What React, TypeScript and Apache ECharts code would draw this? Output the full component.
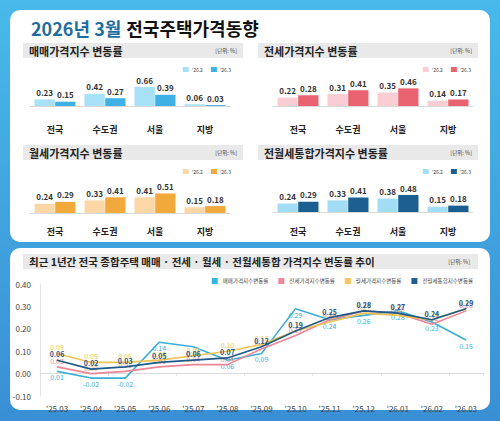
import React, { useEffect, useRef } from "react";
import * as echarts from "echarts";

const categories = ["전국", "수도권", "서울", "지방"];
const saleFeb = [0.23, 0.42, 0.66, 0.06];
const saleMar = [0.15, 0.27, 0.39, 0.03];
const jeonseFeb = [0.22, 0.31, 0.35, 0.14];
const jeonseMar = [0.28, 0.41, 0.46, 0.17];
const wolseFeb = [0.24, 0.33, 0.41, 0.15];
const wolseMar = [0.29, 0.41, 0.51, 0.18];
const totalFeb = [0.24, 0.33, 0.38, 0.15];
const totalMar = [0.29, 0.41, 0.48, 0.18];

const months = ["'25.03", "'25.04", "'25.05", "'25.06", "'25.07", "'25.08", "'25.09", "'25.10", "'25.11", "'25.12", "'26.01", "'26.02", "'26.03"];
const trendSale = [0.01, -0.02, -0.02, 0.14, 0.12, 0.06, 0.09, 0.29, 0.24, 0.26, 0.28, 0.23, 0.15];
const trendJeonse = [0.03, 0.0, 0.01, 0.03, 0.04, 0.04, 0.11, 0.17, 0.24, 0.28, 0.27, 0.22, 0.28];
const trendWolse = [0.09, 0.05, 0.05, 0.06, 0.08, 0.1, 0.13, 0.19, 0.23, 0.27, 0.26, 0.24, 0.29];
const trendTotal = [0.06, 0.02, 0.03, 0.05, 0.06, 0.07, 0.12, 0.19, 0.25, 0.28, 0.27, 0.24, 0.29];

const periodLabels = ["'26.2", "'26.3"];
const trendNames = ["매매가격지수변동률", "전세가격지수변동률", "월세가격지수변동률", "전월세통합지수변동률"];

const FONT = "'Noto Sans CJK KR', 'Noto Sans', sans-serif";

export default function App() {
  const ref = useRef<HTMLDivElement>(null);
  useEffect(() => {
    if (!ref.current) return;
    const chart = echarts.init(ref.current, undefined, { renderer: "svg" });

    const panels = [
      { key: "매매", title: "매매가격지수 변동률", left: 30, top: 60, height: 46, max: 1.6, feb: saleFeb, mar: saleMar, c1: "#a6e1f7", c2: "#3fb0e3", hx: 23, hy: 43, legTop: 62, legRight: 264, margin: 19 },
      { key: "전세", title: "전세가격지수 변동률", left: 273, top: 60, height: 46, max: 1.2, feb: jeonseFeb, mar: jeonseMar, c1: "#f9cdd3", c2: "#e8626f", hx: 258, hy: 43, legTop: 62, legRight: 24, margin: 19 },
      { key: "월세", title: "월세가격지수 변동률", left: 30, top: 167, height: 46, max: 1.2, feb: wolseFeb, mar: wolseMar, c1: "#fbd6a6", c2: "#f2a93b", hx: 23, hy: 145, legTop: 164, legRight: 264, margin: 14 },
      { key: "통합", title: "전월세통합가격지수 변동률", left: 273, top: 166, height: 46, max: 1.3, feb: totalFeb, mar: totalMar, c1: "#a3dcf5", c2: "#1b5f91", hx: 258, hy: 145, legTop: 164, legRight: 24, margin: 15 },
    ];

    const grids: any[] = [];
    const xAxes: any[] = [];
    const yAxes: any[] = [];
    const series: any[] = [];
    const legends: any[] = [];
    const graphics: any[] = [
      { type: "rect", shape: { x: 10, y: 10, width: 480, height: 232, r: 10 }, style: { fill: "#ffffff" }, z: 0 },
      { type: "rect", shape: { x: 10, y: 248, width: 480, height: 162, r: 10 }, style: { fill: "#ffffff" }, z: 0 },
    ];

    panels.forEach((p, i) => {
      grids.push({ left: p.left, top: p.top, width: 200, height: p.height });
      xAxes.push({
        type: "category", gridIndex: i, data: categories,
        axisLine: { lineStyle: { color: "#d9d9d9" } }, axisTick: { show: false },
        axisLabel: { color: "#222", fontSize: 9, fontWeight: "bold", margin: p.margin, fontFamily: FONT },
      });
      yAxes.push({ type: "value", gridIndex: i, min: 0, max: p.max, show: false });
      const names = periodLabels.map((l) => p.key + " " + l);
      [p.feb, p.mar].forEach((vals, j) => {
        series.push({
          type: "bar", name: names[j], xAxisIndex: i, yAxisIndex: i, data: vals,
          barGap: "2%", barCategoryGap: "18%",
          itemStyle: { color: j === 0 ? p.c1 : p.c2 },
          label: { show: true, position: "top", distance: 3, fontSize: 8, fontWeight: "bold", color: "#333", fontFamily: FONT, formatter: (v: any) => v.value.toFixed(2) },
        });
      });
      legends.push({
        data: names, top: p.legTop, right: p.legRight, itemWidth: 6, itemHeight: 5, itemGap: 8, icon: "rect",
        formatter: (n: string) => n.split(" ")[1],
        textStyle: { fontSize: 5, color: "#444", fontFamily: FONT, padding: [0, 0, 0, -2] },
        selectedMode: false,
      });
      graphics.push(
        { type: "rect", shape: { x: p.hx, y: p.hy, width: 220, height: 15 }, style: { fill: "#e9e9e9" }, z: 1 },
        { type: "text", x: p.hx + 6, y: p.hy + 7.5, style: { text: p.title, fontSize: 11, fontWeight: "bold", fill: "#222", fontFamily: FONT, textVerticalAlign: "middle" }, z: 2 },
        { type: "text", x: p.hx + 214, y: p.hy + 7.5, style: { text: "[단위: %]", fontSize: 5.5, fill: "#444", fontFamily: FONT, textAlign: "right", textVerticalAlign: "middle" }, z: 2 },
      );
    });

    // trend chart
    graphics.push(
      { type: "rect", shape: { x: 23, y: 254, width: 455, height: 15 }, style: { fill: "#e9e9e9" }, z: 1 },
      { type: "text", x: 29, y: 261.5, style: { text: "최근 1년간 전국 종합주택 매매 · 전세 · 월세 · 전월세통합 가격지수 변동률 추이", fontSize: 10.5, fontWeight: "bold", fill: "#222", fontFamily: FONT, textVerticalAlign: "middle" }, z: 2 },
      { type: "text", x: 470, y: 261.5, style: { text: "[단위: %]", fontSize: 5.5, fill: "#444", fontFamily: FONT, textAlign: "right", textVerticalAlign: "middle" }, z: 2 },
    );
    grids.push({ left: 40, right: 17, top: 284, bottom: 25 });
    const gi = panels.length;
    xAxes.push({
      type: "category", gridIndex: gi, data: months, position: "bottom",
      axisLine: { show: false, onZero: false }, axisTick: { show: false },
      axisLabel: { color: "#444", fontSize: 8, margin: 8, fontFamily: FONT },
    });
    xAxes.push({
      type: "category", gridIndex: gi, data: months, position: "bottom",
      axisLine: { show: true, onZero: true, lineStyle: { color: "#dcdcdc" } },
      axisTick: { show: true, length: 2, lineStyle: { color: "#dcdcdc" } },
      axisLabel: { show: false },
    });
    yAxes.push({
      type: "value", gridIndex: gi, min: -0.1, max: 0.4, interval: 0.1,
      axisLine: { show: true, lineStyle: { color: "#e3e3e3" } }, axisTick: { show: false },
      splitLine: { show: false },
      axisLabel: { color: "#444", fontSize: 8, margin: 9, fontFamily: FONT, formatter: (v: number) => v.toFixed(2) },
    });
    const trendData = [trendSale, trendJeonse, trendWolse, trendTotal];
    const trendColors = ["#3aaed8", "#ec8595", "#f2c24e", "#1f5b8a"];
    const legendColors = ["#35b6e6", "#f08a9a", "#f7c35e", "#1e5f93"];
    const labelPos = ["bottom", "top", "top", "top"];
    trendData.forEach((d, k) => {
      series.push({
        type: "line", name: trendNames[k], xAxisIndex: gi, yAxisIndex: gi, data: d,
        symbol: "circle", symbolSize: 1, showSymbol: true,
        lineStyle: { color: trendColors[k], width: 1.6 },
        itemStyle: { color: legendColors[k] },
        z: 3 + k,
        label: {
          show: true, position: labelPos[k], distance: 2, fontSize: 7, color: trendColors[k], fontFamily: FONT,
          fontWeight: k === 3 ? "bold" : "normal",
          formatter: (v: any) => v.value.toFixed(2),
        },
      });
    });
    legends.push({
      data: trendNames, top: 273, right: 22, itemWidth: 6, itemHeight: 6, itemGap: 10, icon: "rect",
      textStyle: { fontSize: 5.5, color: "#444", fontFamily: FONT }, selectedMode: false,
    });

    chart.setOption({
      animation: false,
      backgroundColor: new echarts.graphic.LinearGradient(0, 0, 0, 1, [
        { offset: 0, color: "#48b9ea" },
        { offset: 1, color: "#3a8fd4" },
      ]),
      title: {
        text: "{a|2026년 3월} {b|전국주택가격동향}",
        left: 26, top: 14,
        textStyle: {
          rich: {
            a: { fontSize: 18, fontWeight: "bold", color: "#1f6c9e", fontFamily: FONT },
            b: { fontSize: 18, fontWeight: "bold", color: "#111", fontFamily: FONT },
          },
        },
      },
      grid: grids,
      xAxis: xAxes,
      yAxis: yAxes,
      legend: legends,
      series,
      graphic: graphics,
    });
    return () => chart.dispose();
  }, []);
  return <div ref={ref} style={{ position: "fixed", left: 0, top: 0, width: 500, height: 421 }} />;
}
